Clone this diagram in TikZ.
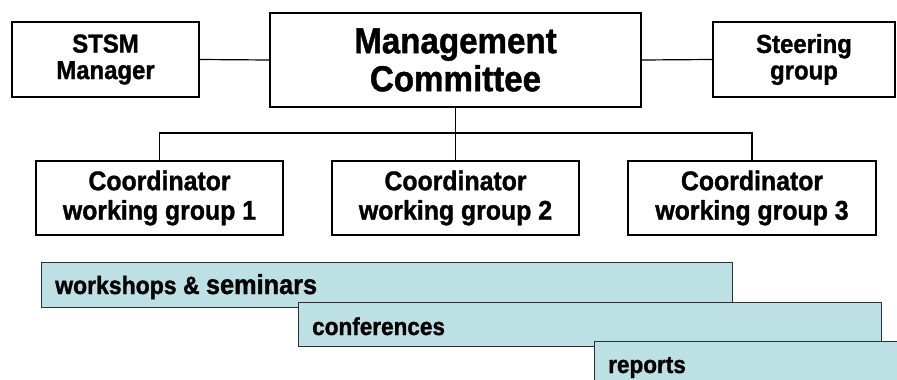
\documentclass[tikz,border=0pt]{standalone}
\usepackage{fontspec}
\setmainfont{Liberation Sans}[FakeStretch=0.92, BoldFeatures={FakeBold=1.2}]
\definecolor{barfill}{RGB}{189,224,228}
\definecolor{barline}{RGB}{40,50,50}
\begin{document}
\begin{tikzpicture}[x=1pt,y=-1pt,
 box/.style={draw=black, line width=1.2pt, fill=white, rectangle, inner sep=0pt, align=center},
 smallbox/.style={box, font=\bfseries\fontsize{26}{26.5}\selectfont},
 bigbox/.style={box, font=\bfseries\fontsize{36}{38}\selectfont},
 wgbox/.style={box, font=\bfseries\fontsize{27}{29.5}\selectfont},
 bar/.style={draw=barline, line width=1.2pt, fill=barfill, rectangle, inner sep=0pt, anchor=north west},
 link/.style={draw=black, line width=1.2pt},
 bartext/.style={anchor=base west, inner sep=0pt, font=\bfseries\fontsize{24.5}{26}\selectfont}]
\useasboundingbox (0,0) rectangle (897,380);
\clip (0,0) rectangle (897,380);

\node[smallbox, minimum width=187pt, minimum height=75pt] (stsm) at (105.5,59.5) {STSM\\Manager};
\node[bigbox, minimum width=371pt, minimum height=94pt] (mc) at (455.5,60) {Management\\Committee};
\node[smallbox, minimum width=182pt, minimum height=75pt] (steer) at (804,59.5) {Steering\\group};

\node[wgbox, minimum width=247pt, minimum height=74pt] (wg1) at (159.5,198) {Coordinator\\working group 1};
\node[wgbox, minimum width=247pt, minimum height=74pt] (wg2) at (455.5,198) {Coordinator\\working group 2};
\node[wgbox, minimum width=248pt, minimum height=74pt] (wg3) at (752,198) {Coordinator\\working group 3};

\draw[link] (stsm.east) -- (mc.west);
\draw[link] (mc.east) -- (steer.west);
\coordinate (j) at (455.5,133);
\draw[link] (mc.south) -- (wg2.north);
\draw[link] (wg1.north) |- (j) -| (wg3.north);

\node[bar, minimum width=691pt, minimum height=45pt] (ws) at (41,262) {};
\node[bartext] (wst) at (55,294) {\fontsize{25}{26}\selectfont workshops \& {\fontsize{27.5}{26}\selectfont seminars}};
\node[bar, minimum width=583pt, minimum height=44pt] (conf) at (298,302) {};
\node[bartext] (conft) at (312,335) {conferences};
\node[bar, minimum width=320pt, minimum height=50pt] (rep) at (594,341) {};
\node[bartext] (rept) at (608,373) {reports};
\end{tikzpicture}
\end{document}
